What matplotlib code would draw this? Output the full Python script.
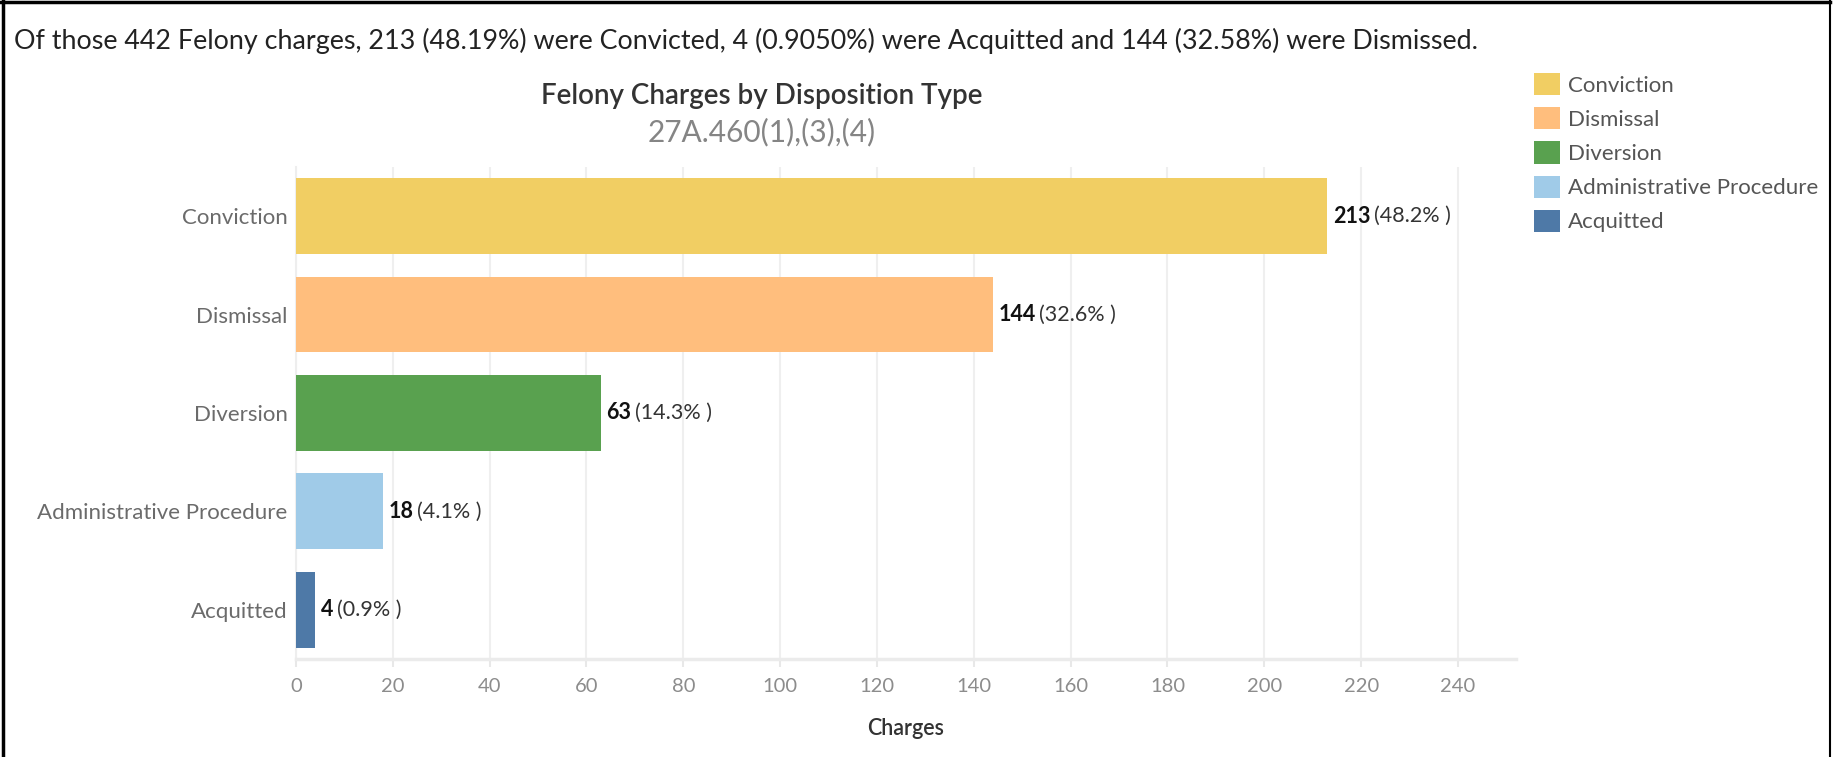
import numpy as np
import matplotlib.pyplot as plt
from matplotlib.patches import Patch
from matplotlib.lines import Line2D

categories = ["Conviction", "Dismissal", "Diversion", "Administrative Procedure", "Acquitted"]
charges = [213, 144, 63, 18, 4]
colors = ["#F1CE63", "#FFBE7D", "#59A14F", "#A0CBE8", "#4E79A7"]
x_ticks = list(range(0, 241, 20))

total = sum(charges)
pcts = [c / total * 100 for c in charges]

plt.rcParams['font.family'] = ['Lato', 'DejaVu Sans']

fig = plt.figure(figsize=(18.35, 7.57), dpi=100)
ax = fig.add_axes([0.1613, 0.1295, 0.8262 - 0.1613, 0.7794 - 0.1295])

y = np.arange(len(categories))
bars = ax.barh(y, charges, height=0.77, color=colors, zorder=3)
ax.set_ylim(4.5, -0.5)
ax.set_xlim(0, 252)

ax.set_yticks(y)
ax.set_yticklabels(categories, fontsize=16, color="#6b6b6b")
ax.tick_params(axis='y', length=0, pad=6)
ax.set_xticks(x_ticks)
ax.set_xticklabels([str(t) for t in x_ticks], fontsize=14.5, color="#8c8c8c")
ax.tick_params(axis='x', length=6, color="#e8e8e8", width=1.5, pad=8)
ax.grid(axis='x', color="#efefef", linewidth=1.5, zorder=0)
for s in ['top', 'right']:
    ax.spines[s].set_visible(False)
ax.spines['left'].set_color("#eeeeee")
ax.spines['left'].set_linewidth(1.5)
ax.spines['bottom'].set_color("#ebebeb")
ax.spines['bottom'].set_linewidth(2.5)
ax.set_xlabel("Charges", fontsize=15.5, color="#333333", labelpad=16, fontweight='semibold')

for yi, v, p in zip(y, charges, pcts):
    num = ax.annotate(str(v), xy=(v, yi), xytext=(4, 0), textcoords='offset points',
                      va='center', ha='left', fontsize=15.5, fontweight='bold', color="#111111")
    ax.annotate("(%.1f%% )" % p, xy=(1, 0.5), xycoords=num, xytext=(2.5, 0),
                textcoords='offset points', va='center', ha='left', fontsize=15.5, color="#333333")

fig.text(14 / 1835, 1 - 41 / 757,
         "Of those 442 Felony charges, 213 (48.19%) were Convicted, 4 (0.9050%) were Acquitted and 144 (32.58%) were Dismissed.",
         fontsize=19.4, color="#222222", va='center', ha='left')
fig.text(762 / 1835, 1 - 96 / 757, "Felony Charges by Disposition Type",
         fontsize=20, color="#333333", va='center', ha='center', fontweight='semibold')
fig.text(762 / 1835, 1 - 132 / 757, "27A.460(1),(3),(4)",
         fontsize=21.5, color="#858585", va='center', ha='center')

handles = [Patch(facecolor=c, edgecolor='none') for c in colors]
fig.legend(handles, categories, loc='upper left', bbox_to_anchor=(1534 / 1835, 1 - 73 / 757),
           frameon=False, fontsize=16, labelcolor="#555555", handlelength=1.16, handleheight=1.16,
           handletextpad=0.36, labelspacing=0.52, borderpad=0, borderaxespad=0)

# outer frame
fig.add_artist(Line2D([0.0015, 0.0015], [0, 1], transform=fig.transFigure, color='black', linewidth=2.5))
fig.add_artist(Line2D([0, 1830 / 1835], [0.998, 0.998], transform=fig.transFigure, color='black', linewidth=2.5))
fig.add_artist(Line2D([1830 / 1835, 1830 / 1835], [0, 1], transform=fig.transFigure, color='black', linewidth=1.5))

fig.savefig("out.png", dpi=100)
